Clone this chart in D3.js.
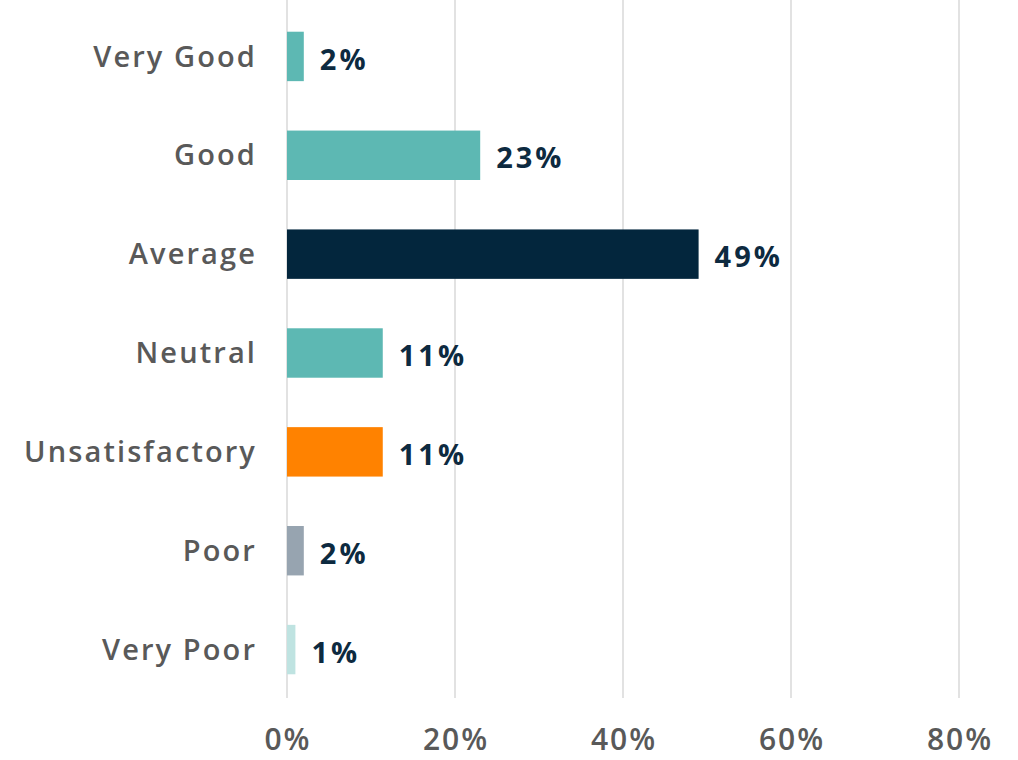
<!DOCTYPE html>
<html>
<head>
<meta charset="utf-8">
<script src="https://cdn.jsdelivr.net/npm/d3@7"></script>
<style>
  body { margin: 0; background: #fff; }
  text { font-family: "Open Sans", Lato, sans-serif; font-weight: 600; }
</style>
</head>
<body>
<div id="chart"></div>
<script>
// chart data
var categories = ["Very Good", "Good", "Average", "Neutral", "Unsatisfactory", "Poor", "Very Poor"];
var values = [2, 23, 49, 11.4, 11.4, 2, 1];
var valueLabels = ["2%", "23%", "49%", "11%", "11%", "2%", "1%"];
var barColors = ["#5db8b3", "#5db8b3", "#03263d", "#5db8b3", "#ff8200", "#97a4b0", "#bfe3e1"];
var xTicks = [0, 20, 40, 60, 80];

var width = 1018, height = 760;
var margin = { top: 7, right: 59, bottom: 61, left: 287 };

var svg = d3.select("#chart")
    .append("svg")
    .attr("width", width)
    .attr("height", height);

var x = d3.scaleLinear()
    .domain([0, 80])
    .range([margin.left, width - margin.right]);

var y = d3.scaleBand()
    .domain(categories)
    .range([margin.top, height - margin.bottom])
    .paddingInner(0.5)
    .paddingOuter(0.25);

// vertical gridlines
svg.append("g")
    .selectAll("line")
    .data(xTicks)
    .enter()
    .append("line")
    .attr("x1", d => x(d))
    .attr("x2", d => x(d))
    .attr("y1", 0)
    .attr("y2", 698)
    .attr("stroke", "#d9d9d9")
    .attr("stroke-width", 1.5);

// x tick labels
svg.append("g")
    .selectAll("text")
    .data(xTicks)
    .enter()
    .append("text")
    .attr("x", d => x(d) + 1)
    .attr("y", 750)
    .attr("text-anchor", "middle")
    .attr("fill", "#595959")
    .style("font-size", "30px")
    .style("letter-spacing", "2px")
    .text(d => d + "%");

// bars
svg.append("g")
    .selectAll("rect")
    .data(categories)
    .enter()
    .append("rect")
    .attr("x", x(0))
    .attr("y", d => y(d))
    .attr("width", (d, i) => x(values[i]) - x(0))
    .attr("height", y.bandwidth())
    .attr("fill", (d, i) => barColors[i]);

// category labels
svg.append("g")
    .selectAll("text")
    .data(categories)
    .enter()
    .append("text")
    .attr("x", 257)
    .attr("y", d => y(d) + y.bandwidth() / 2)
    .attr("dy", "0.35em")
    .attr("text-anchor", "end")
    .attr("fill", "#595959")
    .style("font-size", "29px")
    .style("letter-spacing", "2.1px")
    .text(d => d);

// value labels
svg.append("g")
    .selectAll("text")
    .data(categories)
    .enter()
    .append("text")
    .attr("x", (d, i) => x(values[i]) + 16)
    .attr("y", d => y(d) + y.bandwidth() / 2 + 3)
    .attr("dy", "0.35em")
    .attr("fill", "#0d2a40")
    .style("font-size", "29px")
    .style("font-weight", "bold")
    .style("letter-spacing", "3px")
    .text((d, i) => valueLabels[i]);
</script>
</body>
</html>
